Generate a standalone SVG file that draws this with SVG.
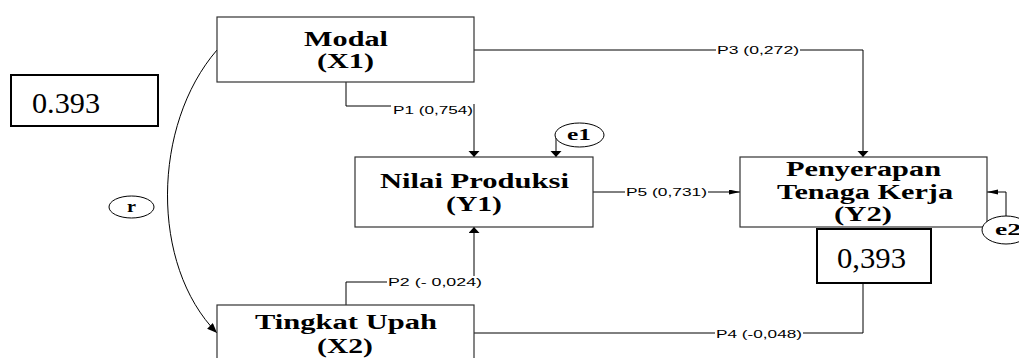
<svg xmlns="http://www.w3.org/2000/svg" width="1019" height="358" viewBox="0 0 1019 358">
<style>
.box{fill:#fff;stroke:#333;stroke-width:1.2}
.rbox{fill:#fff;stroke:#000;stroke-width:2}
.ell{fill:#fff;stroke:#000;stroke-width:1}
.t{font-family:"Liberation Serif","Times New Roman",serif;font-weight:bold;font-size:20px;fill:#000}
.big{font-family:"Liberation Serif","Times New Roman",serif;font-size:30px;fill:#000}
.sm{font-family:"Liberation Serif","Times New Roman",serif;font-weight:bold;font-size:16px;fill:#000}
.lbl{font-family:"Liberation Sans",Arial,sans-serif;font-size:10.5px;fill:#000}
.ln{fill:none;stroke:#000;stroke-width:1}
.bg{fill:#fff;stroke:none}
</style>
<defs>
<marker id="av" markerUnits="userSpaceOnUse" markerWidth="7" markerHeight="12" refX="6" refY="5.5" orient="auto">
<path d="M0,0 L6,5.5 L0,11 z" fill="#000"/>
</marker>
<marker id="ah" markerUnits="userSpaceOnUse" markerWidth="12" markerHeight="6" refX="11" refY="2.5" orient="auto">
<path d="M0,0 L11,2.5 L0,5 z" fill="#000"/>
</marker>
<marker id="ac" markerUnits="userSpaceOnUse" markerWidth="11" markerHeight="9" refX="10" refY="4" orient="auto">
<path d="M0,0 L10,4 L0,8 z" fill="#000"/>
</marker>
</defs>

<g id="connectors">
<path class="ln" d="M217,50 C152,125 150,265 217,333" marker-end="url(#ac)"/>
<path class="ln" d="M346,82 V106 H391"/>
<path class="ln" d="M474,104 V157" marker-end="url(#av)"/>
<path class="ln" d="M346,305 V282 H474 V227" marker-end="url(#av)"/>
<path class="ln" d="M474,50 H863 V157" marker-end="url(#av)"/>
<path class="ln" d="M474,333 H863 V283"/>
<path class="ln" d="M593,192 H740" marker-end="url(#ah)"/>
<path class="ln" d="M556,135 V157" marker-end="url(#av)"/>
<path class="ln" d="M1006,216 V192 H987" marker-end="url(#ah)"/>
<rect class="bg" x="716" y="44" width="84" height="12"/>
<text class="lbl" x="717" y="54" textLength="82" lengthAdjust="spacingAndGlyphs">P3 (0,272)</text>
<text class="lbl" x="393" y="114" textLength="80" lengthAdjust="spacingAndGlyphs">P1 (0,754)</text>
<rect class="bg" x="387" y="276" width="96" height="12"/>
<text class="lbl" x="388" y="286" textLength="94" lengthAdjust="spacingAndGlyphs">P2 (- 0,024)</text>
<rect class="bg" x="625" y="186" width="83" height="12"/>
<text class="lbl" x="626" y="196" textLength="81" lengthAdjust="spacingAndGlyphs">P5 (0,731)</text>
<rect class="bg" x="715" y="327" width="88" height="12"/>
<text class="lbl" x="716" y="337.5" textLength="86" lengthAdjust="spacingAndGlyphs">P4 (-0,048)</text>
</g>

<g id="modal">
<rect class="box" x="217" y="17" width="257" height="65"/>
<text class="t" x="304" y="46" textLength="84" lengthAdjust="spacingAndGlyphs">Modal</text>
<text class="t" x="317" y="68" textLength="57" lengthAdjust="spacingAndGlyphs">(X1)</text>
</g>

<g id="r-left">
<rect class="rbox" x="11" y="75" width="147" height="51"/>
<text class="big" x="32" y="113" textLength="68" lengthAdjust="spacingAndGlyphs">0.393</text>
</g>

<g id="nilai">
<rect class="box" x="355" y="157" width="238" height="70"/>
<text class="t" x="380" y="188" textLength="189" lengthAdjust="spacingAndGlyphs">Nilai Produksi</text>
<text class="t" x="446" y="211" textLength="56" lengthAdjust="spacingAndGlyphs">(Y1)</text>
</g>

<g id="e1">
<ellipse class="ell" cx="579.5" cy="135" rx="24.5" ry="12"/>
<text class="sm" x="567" y="140" textLength="24" lengthAdjust="spacingAndGlyphs">e1</text>
</g>

<g id="penyerapan">
<rect class="box" x="740" y="157" width="247" height="70"/>
<text class="t" x="786" y="176" textLength="155" lengthAdjust="spacingAndGlyphs">Penyerapan</text>
<text class="t" x="777" y="199" textLength="176" lengthAdjust="spacingAndGlyphs">Tenaga Kerja</text>
<text class="t" x="834" y="221" textLength="58" lengthAdjust="spacingAndGlyphs">(Y2)</text>
</g>

<g id="e2">
<ellipse class="ell" cx="1006" cy="230" rx="24" ry="14"/>
<text class="sm" x="995" y="235" textLength="26" lengthAdjust="spacingAndGlyphs">e2</text>
</g>

<g id="r-right">
<rect class="rbox" x="817" y="229" width="114" height="54"/>
<text class="big" x="837" y="268" textLength="69" lengthAdjust="spacingAndGlyphs">0,393</text>
</g>

<g id="r">
<ellipse class="ell" cx="131.5" cy="207" rx="22.5" ry="11"/>
<text class="sm" x="127" y="212" textLength="9" lengthAdjust="spacingAndGlyphs">r</text>
</g>

<g id="tingkat">
<rect class="box" x="217" y="305" width="257" height="70"/>
<text class="t" x="255" y="329" textLength="182" lengthAdjust="spacingAndGlyphs">Tingkat Upah</text>
<text class="t" x="317" y="353" textLength="56" lengthAdjust="spacingAndGlyphs">(X2)</text>
</g>
</svg>
